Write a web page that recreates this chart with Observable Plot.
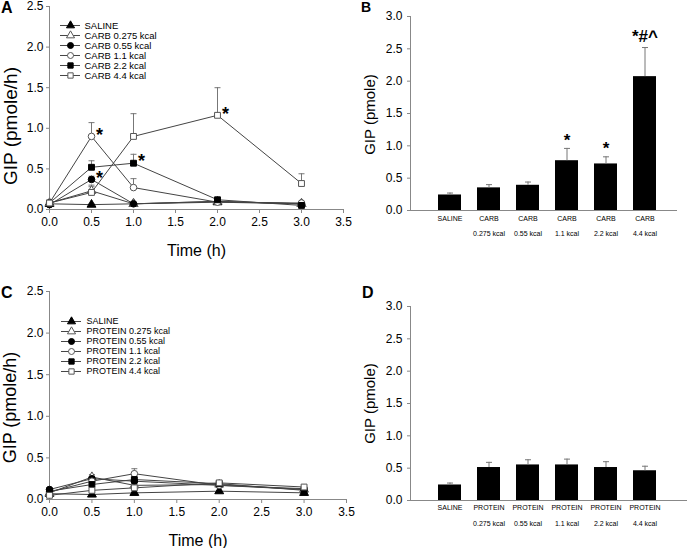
<!DOCTYPE html>
<html><head><meta charset="utf-8">
<script src="https://cdn.jsdelivr.net/npm/d3@7"></script>
<script src="https://cdn.jsdelivr.net/npm/@observablehq/plot@0.6"></script>
<style>
body{margin:0;background:#fff;}
#wrap{position:relative;width:688px;height:548px;overflow:hidden;font-family:"Liberation Sans",Arial,sans-serif;background:#fff;}
.panel{position:absolute;}
.letter{position:absolute;font-weight:bold;line-height:1;font-family:"Liberation Sans",Arial,sans-serif;}
</style></head><body><div id="wrap"></div>
<script>
// ---------- data ----------
const times = [0, 0.5, 1, 2, 3];
const carbNames = ["SALINE","CARB 0.275 kcal","CARB 0.55 kcal","CARB 1.1 kcal","CARB 2.2 kcal","CARB 4.4 kcal"];
const proteinNames = ["SALINE","PROTEIN 0.275 kcal","PROTEIN 0.55 kcal","PROTEIN 1.1 kcal","PROTEIN 2.2 kcal","PROTEIN 4.4 kcal"];
const seriesSymbols = ["triangle","triangle","circle","circle","square","square"];
const seriesFilled = [true,false,true,false,true,false];

const carbMean = [
  [0.07, 0.06, 0.07, 0.09, 0.07],
  [0.08, 0.23, 0.07, 0.10, 0.07],
  [0.06, 0.37, 0.07, 0.10, 0.07],
  [0.08, 0.90, 0.27, 0.09, 0.08],
  [0.08, 0.52, 0.57, 0.12, 0.05],
  [0.08, 0.21, 0.90, 1.16, 0.32]
];
const carbSem = [
  [0.01, 0.01, 0.01, 0.01, 0.01],
  [0.01, 0.07, 0.01, 0.01, 0.01],
  [0.01, 0.04, 0.01, 0.01, 0.01],
  [0.01, 0.17, 0.11, 0.01, 0.01],
  [0.01, 0.08, 0.11, 0.01, 0.01],
  [0.01, 0.07, 0.28, 0.34, 0.12]
];
const carbStars = [[3, 0.5], [2, 0.5], [4, 1], [5, 2]];

const proteinMean = [
  [0.07, 0.06, 0.08, 0.10, 0.08],
  [0.08, 0.27, 0.17, 0.18, 0.12],
  [0.12, 0.25, 0.22, 0.17, 0.12],
  [0.09, 0.22, 0.31, 0.17, 0.13],
  [0.10, 0.18, 0.24, 0.19, 0.11],
  [0.05, 0.11, 0.14, 0.20, 0.15]
];
const proteinSem = [
  [0.01, 0.01, 0.01, 0.01, 0.01],
  [0.01, 0.03, 0.02, 0.02, 0.01],
  [0.01, 0.02, 0.02, 0.02, 0.01],
  [0.01, 0.02, 0.06, 0.02, 0.01],
  [0.01, 0.02, 0.02, 0.02, 0.01],
  [0.01, 0.02, 0.02, 0.02, 0.01]
];

const carbBarLine1 = ["SALINE","CARB","CARB","CARB","CARB","CARB"];
const proteinBarLine1 = ["SALINE","PROTEIN","PROTEIN","PROTEIN","PROTEIN","PROTEIN"];
const barLine2 = ["","0.275 kcal","0.55 kcal","1.1 kcal","2.2 kcal","4.4 kcal"];
const carbBarMean = [0.24, 0.35, 0.39, 0.77, 0.72, 2.07];
const carbBarSem = [0.03, 0.05, 0.05, 0.19, 0.11, 0.45];
const carbBarNote = ["", "", "", "*", "*", "*#^"];
const proteinBarMean = [0.24, 0.51, 0.55, 0.55, 0.51, 0.46];
const proteinBarSem = [0.03, 0.08, 0.08, 0.09, 0.09, 0.07];
const proteinBarNote = ["", "", "", "", "", ""];

const timeTicks = [0, 0.5, 1, 1.5, 2, 2.5, 3, 3.5];
const lineYTicks = [0, 0.5, 1, 1.5, 2, 2.5];
const barYTicks = [0, 0.5, 1, 1.5, 2, 2.5, 3];

// ---------- helpers ----------
const FONT = "Liberation Sans, Arial, sans-serif";
const AXIS = "#888";
const capSymbol = {draw(ctx) { ctx.moveTo(-3, 0); ctx.lineTo(3, 0); }};
const svgStyle = {fontFamily: FONT, overflow: "visible", background: "transparent", color: "black"};
const wrap = document.getElementById("wrap");
function place(el, left, top) {
  const d = document.createElement("div");
  d.className = "panel"; d.style.left = left + "px"; d.style.top = top + "px";
  d.appendChild(el); wrap.appendChild(d);
}
function letter(txt, left, top, size) {
  const d = document.createElement("div");
  d.className = "letter"; d.textContent = txt;
  d.style.left = left + "px"; d.style.top = top + "px"; d.style.fontSize = size + "px";
  wrap.appendChild(d);
}

function linePanel({names, means, sems, stars, width, mt, mb, yLabelDy, yLabelSize}) {
  const rows = [];
  names.forEach((n, i) => times.forEach((t, j) =>
    rows.push({series: n, idx: i, t, v: means[i][j], e: sems[i][j]})));
  const starRows = stars.map(([i, t]) => rows.find(r => r.idx === i && r.t === t));
  return Plot.plot({
    width, height: 274, marginLeft: 49, marginRight: 1, marginTop: mt, marginBottom: mb,
    x: {domain: [0, 3.5], label: null}, y: {domain: [0, 2.5], label: null},
    style: svgStyle,
    marks: [
      Plot.ruleY([0], {stroke: AXIS}),
      Plot.ruleX([0], {stroke: AXIS}),
      Plot.axisX({ticks: timeTicks, tickFormat: d3.format(".1f"), tickSize: 4, tickPadding: 4, stroke: AXIS, fill: "black", fontSize: 12, label: null}),
      Plot.axisY({ticks: lineYTicks, tickFormat: d3.format(".1f"), tickSize: 3, tickPadding: 3, stroke: AXIS, fill: "black", fontSize: 12, label: null}),
      Plot.ruleX(rows, {x: "t", y1: "v", y2: d => d.v + d.e, stroke: "#777"}),
      Plot.dot(rows, {x: "t", y: d => d.v + d.e, symbol: capSymbol, stroke: "#777", fill: "none", strokeWidth: 1}),
      Plot.line(rows, {x: "t", y: "v", z: "series", stroke: "#444", strokeWidth: 1}),
      ...names.map((n, i) => Plot.dot(rows.filter(r => r.idx === i), {
        x: "t", y: "v", symbol: seriesSymbols[i], r: 3.3,
        fill: seriesFilled[i] ? "black" : "white", stroke: seriesFilled[i] ? "black" : "#555", strokeWidth: 1})),
      Plot.text(starRows, {x: "t", y: "v", text: () => "*", dx: 8, dy: -1.5, fontSize: 18, fontWeight: "bold"}),
      Plot.text(["Time (h)"], {text: d => d, frameAnchor: "bottom", lineAnchor: "middle", dy: 41, fontSize: 16}),
      Plot.text(["GIP (pmole/h)"], {text: d => d, frameAnchor: "left", textAnchor: "middle", lineAnchor: "middle", rotate: -90, dx: -39, dy: yLabelDy, fontSize: yLabelSize})
    ]
  });
}

function legend(names, rowStep, fontSize, textGap) {
  return Plot.plot({
    width: 170, height: 6 * rowStep + 6, margin: 0,
    x: {domain: [0, 1], range: [0, 20], axis: null},
    y: {type: "point", domain: names, range: [6, 6 + 5 * rowStep], axis: null},
    style: svgStyle,
    marks: [
      Plot.ruleY(names, {y: d => d, x1: 0, x2: 1, stroke: "#444", strokeWidth: 1}),
      ...names.map((n, i) => Plot.dot([n], {x: 0.5, y: d => d, symbol: seriesSymbols[i], r: 3,
        fill: seriesFilled[i] ? "black" : "white", stroke: seriesFilled[i] ? "black" : "#555", strokeWidth: 1})),
      Plot.text(names, {x: 1, y: d => d, text: d => d, textAnchor: "start", dx: textGap, fontSize})
    ]
  });
}

function barPanel({line1, means, sems, notes, mt, mb, mr, l1dy, l2dy, yLabelDy}) {
  const rows = line1.map((c, i) => ({key: i, l1: c, l2: barLine2[i], m: means[i], e: sems[i], a: notes[i]}));
  return Plot.plot({
    width: 344, height: 274, marginLeft: 66, marginRight: mr, marginTop: mt, marginBottom: mb,
    x: {type: "band", domain: rows.map(r => r.key), range: [92, 315], paddingInner: 0.4, paddingOuter: 0, axis: null, label: null},
    y: {domain: [0, 3], axis: null, label: null},
    style: svgStyle,
    marks: [
      Plot.barY(rows, {x: "key", y: "m", fill: "black"}),
      Plot.ruleX(rows, {x: "key", y1: "m", y2: d => d.m + d.e, stroke: "#777"}),
      Plot.dot(rows, {x: "key", y: d => d.m + d.e, symbol: capSymbol, stroke: "#777", fill: "none", strokeWidth: 1}),
      Plot.text(rows.filter(r => r.a.length === 1), {x: "key", y: d => d.m + d.e, text: "a", dy: -8, fontSize: 17, fontWeight: "bold"}),
      Plot.text(rows.filter(r => r.a.length > 1), {x: "key", y: d => d.m + d.e, text: "a", dy: -11, fontSize: 17, fontWeight: "bold"}),
      Plot.ruleY([0], {stroke: AXIS}),
      Plot.frame({anchor: "left", stroke: AXIS}),
      Plot.axisY({ticks: barYTicks, tickFormat: d3.format(".1f"), tickSize: 3, tickPadding: 5, stroke: AXIS, fill: "black", fontSize: 12, label: null}),
      Plot.text(rows, {x: "key", frameAnchor: "bottom", lineAnchor: "middle", text: "l1", dy: l1dy, fontSize: 7}),
      Plot.text(rows, {x: "key", frameAnchor: "bottom", lineAnchor: "middle", text: "l2", dy: l2dy, fontSize: 7}),
      Plot.text(["GIP (pmole)"], {text: d => d, frameAnchor: "left", textAnchor: "middle", lineAnchor: "middle", rotate: -90, dx: -40, dy: yLabelDy, fontSize: 15})
    ]
  });
}

// ---------- panels ----------
place(linePanel({names: carbNames, means: carbMean, sems: carbSem, stars: carbStars, width: 344, mt: 6, mb: 65, yLabelDy: 18, yLabelSize: 19}), 0, 0);
place(legend(carbNames, 12.4, 9.5, 4), 60, 13);
place(barPanel({line1: carbBarLine1, means: carbBarMean, sems: carbBarSem, notes: carbBarNote, mt: 16, mb: 64, mr: 11, l1dy: 8, l2dy: 23, yLabelDy: 1}), 344, 0);
place(linePanel({names: proteinNames, means: proteinMean, sems: proteinSem, stars: [], width: 347, mt: 17, mb: 49, yLabelDy: 12, yLabelSize: 18}), 0, 274);
place(legend(proteinNames, 12.2, 9, 5), 61, 309);
place(barPanel({line1: proteinBarLine1, means: proteinBarMean, sems: proteinBarSem, notes: proteinBarNote, mt: 32, mb: 48, mr: 1, l1dy: 7, l2dy: 23, yLabelDy: 0}), 344, 274);

letter("A", 1, 0, 16);
letter("B", 361, 0, 14);
letter("C", 1, 285, 16);
letter("D", 362, 285, 16);
</script></body></html>
